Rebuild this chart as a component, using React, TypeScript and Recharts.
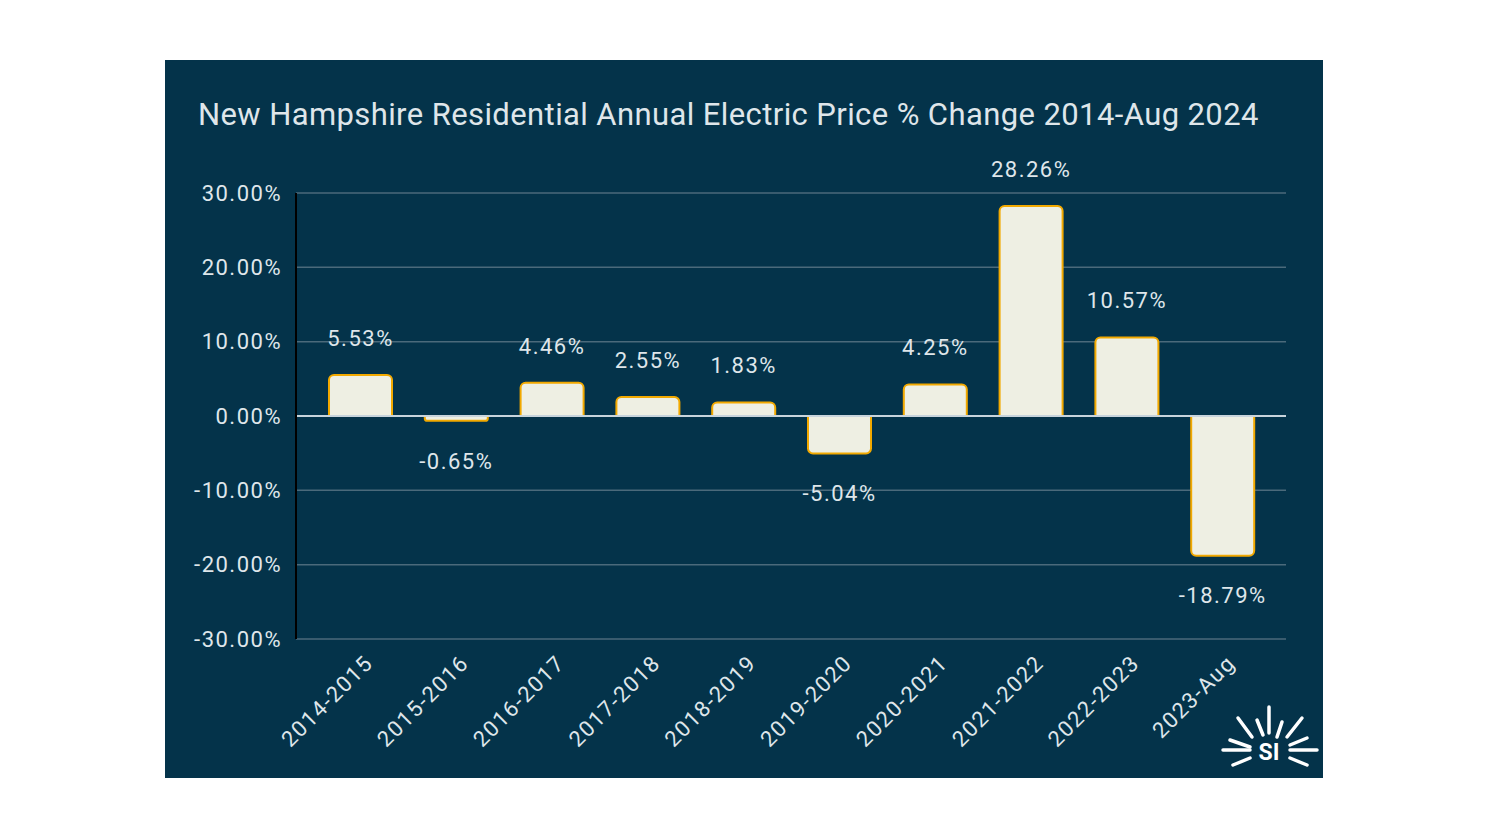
import React from 'react';
import { BarChart, Bar, XAxis, YAxis, CartesianGrid, ReferenceLine, LabelList } from 'recharts';

const periods = [
  '2014-2015',
  '2015-2016',
  '2016-2017',
  '2017-2018',
  '2018-2019',
  '2019-2020',
  '2020-2021',
  '2021-2022',
  '2022-2023',
  '2023-Aug',
];
const changes = [5.53, -0.65, 4.46, 2.55, 1.83, -5.04, 4.25, 28.26, 10.57, -18.79];
const yTicks = [-30, -20, -10, 0, 10, 20, 30];

const chartTitle = 'New Hampshire Residential Annual Electric Price % Change 2014-Aug 2024';

const BG = '#04334a';
const TEXT = '#dfe6ea';
const FONT = 'Roboto, "Noto Sans", sans-serif';

const data = periods.map((p, i) => ({ period: p, change: changes[i] }));

const fmt = (v: number) => `${v.toFixed(2)}%`;

const XTick = ({ x, y, payload }: any) => (
  <g transform={`translate(${x + 8},${y + 12}) rotate(-45)`}>
    <text
      x={0}
      y={0}
      dy="0.35em"
      textAnchor="end"
      fill={TEXT}
      fontSize={22}
      letterSpacing={1.5}
      fontFamily={FONT}
    >
      {payload.value}
    </text>
  </g>
);

const ValueLabel = (props: any) => {
  const { x, y, width, height, value } = props;
  const top = Math.min(y, y + height);
  const bottom = Math.max(y, y + height);
  const cy = value >= 0 ? top - 37 : bottom + 40;
  return (
    <text
      x={x + width / 2}
      y={cy}
      dy="0.35em"
      textAnchor="middle"
      fill={TEXT}
      fontSize={22}
      letterSpacing={1.5}
      fontFamily={FONT}
    >
      {fmt(value)}
    </text>
  );
};

// little sun logo in the corner
const rays: [number, number, number, number][] = [
  [104, 647, 104, 673],
  [92, 660, 98, 675],
  [73, 658, 87, 677],
  [117, 662, 112, 677],
  [137, 658, 122, 677],
  [58, 690, 85, 690],
  [65, 680, 85, 687],
  [68, 705, 85, 698],
  [125, 690, 152, 690],
  [125, 685, 142, 678],
  [125, 698, 142, 705],
];

export default function App() {
  return (
    <div style={{ position: 'absolute', left: 0, top: 0, width: 1488, height: 837, background: '#ffffff' }}>
      <div style={{ position: 'absolute', left: 165, top: 60, width: 1158, height: 718, background: BG }}>
        <div
          style={{
            position: 'absolute',
            left: 33,
            top: 36,
            fontFamily: FONT,
            fontSize: 31,
            letterSpacing: 0.4,
            color: TEXT,
            lineHeight: 'normal',
            whiteSpace: 'nowrap',
          }}
        >
          {chartTitle}
        </div>
        <BarChart
          width={1158}
          height={718}
          data={data}
          margin={{ top: 133, right: 37, left: 0, bottom: 0 }}
        >
          <CartesianGrid vertical={false} stroke="#4b6a7b" strokeWidth={1.5} />
          <XAxis
            dataKey="period"
            height={139}
            padding={{ left: 17, right: 15 }}
            axisLine={false}
            tickLine={false}
            interval={0}
            tick={<XTick />}
          />
          <YAxis
            width={131}
            domain={[-30, 30]}
            ticks={yTicks}
            tickFormatter={fmt}
            axisLine={{ stroke: '#000000', strokeWidth: 2 }}
            tickLine={false}
            tickMargin={8}
            tick={{ fill: TEXT, fontSize: 22, fontFamily: FONT, letterSpacing: 1.5 }}
          />
          <ReferenceLine y={0} stroke="#c8d4dc" strokeWidth={2} />
          <Bar
            dataKey="change"
            barSize={63}
            fill="#eeefe3"
            stroke="#f2a900"
            strokeWidth={2}
            radius={[5, 5, 0, 0]}
            isAnimationActive={false}
          >
            <LabelList dataKey="change" content={<ValueLabel />} />
          </Bar>
        </BarChart>
        <svg
          width={1158}
          height={718}
          style={{ position: 'absolute', left: 0, top: 0, pointerEvents: 'none' }}
        >
          <g transform="translate(1000,0)">
            {rays.map((r, i) => (
              <line key={i} x1={r[0]} y1={r[1]} x2={r[2]} y2={r[3]} stroke="#ffffff" strokeWidth={3.5} strokeLinecap="round" />
            ))}
            <text x={104} y={700} textAnchor="middle" fill="#ffffff" fontSize={23} fontWeight="bold" fontFamily={FONT}>
              SI
            </text>
          </g>
        </svg>
      </div>
    </div>
  );
}
